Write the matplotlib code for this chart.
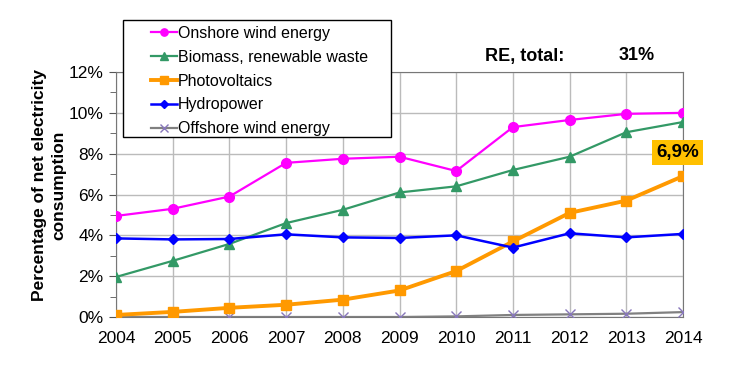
import numpy as np
import matplotlib.pyplot as plt
import matplotlib.patches as patches
from matplotlib.ticker import MultipleLocator, FuncFormatter

years = [2004, 2005, 2006, 2007, 2008, 2009, 2010, 2011, 2012, 2013, 2014]
onshore = [4.95, 5.3, 5.9, 7.55, 7.75, 7.85, 7.15, 9.3, 9.65, 9.95, 10.0]
biomass = [1.96, 2.75, 3.58, 4.6, 5.25, 6.1, 6.4, 7.2, 7.85, 9.05, 9.55]
pv = [0.1, 0.25, 0.45, 0.6, 0.85, 1.3, 2.25, 3.7, 5.1, 5.7, 6.9]
hydro = [3.85, 3.8, 3.82, 4.05, 3.9, 3.87, 4.0, 3.4, 4.1, 3.9, 4.07]
offshore = [0.0, 0.0, 0.0, 0.0, 0.0, 0.0, 0.03, 0.1, 0.13, 0.16, 0.24]

plt.rcParams['font.family'] = ['Liberation Sans', 'DejaVu Sans']

W, H = 744, 369
fig = plt.figure(figsize=(W / 100, H / 100), dpi=100)
ax = fig.add_axes([116 / W, 1 - 317 / H, (683 - 116) / W, (317 - 72) / H])

ax.plot(years, onshore, color='#FF00FF', marker='o', markersize=7, lw=1.6,
        label='Onshore wind energy', zorder=5)
ax.plot(years, biomass, color='#339966', marker='^', markersize=7, lw=1.6,
        label='Biomass, renewable waste', zorder=5)
ax.plot(years, pv, color='#FF9900', marker='s', markersize=7, lw=2.8,
        label='Photovoltaics', zorder=5)
ax.plot(years, hydro, color='#0000FF', marker='D', markersize=5, lw=1.8,
        label='Hydropower', zorder=5)
ax.plot(years, offshore, color='#808080', marker='x', markersize=7, lw=1.6,
        markeredgecolor='#8877BB', label='Offshore wind energy', zorder=4)

ax.set_xlim(2004, 2014)
ax.set_ylim(0, 12)
ax.set_xticks(years)
ax.yaxis.set_major_locator(MultipleLocator(2))
ax.yaxis.set_minor_locator(MultipleLocator(1))
ax.yaxis.set_major_formatter(FuncFormatter(lambda v, p: '%d%%' % v))
ax.tick_params(axis='both', labelsize=12.5, direction='out', color='#555555')
ax.tick_params(axis='y', which='major', length=5, pad=4)
ax.tick_params(axis='y', which='minor', length=4, color='#555555')
ax.tick_params(axis='x', length=0, pad=10)
ax.grid(True, color='#BBBBBB', lw=1)
ax.set_axisbelow(True)
for s in ax.spines.values():
    s.set_color('#777777')

fig.text(49 / W, 1 - 185 / H, 'Percentage of net electricity\nconsumption',
         fontsize=12.5, fontweight='bold', rotation=90, ha='center',
         va='center', linespacing=1.35, multialignment='center')

# legend box drawn separately so the handles sit indented like the original
fig.patches.append(patches.Rectangle((123 / W, 1 - 137 / H), (391 - 123) / W,
                                     (137 - 20) / H, transform=fig.transFigure,
                                     fc='white', ec='black', lw=1, zorder=9))
leg = fig.legend(loc='upper left', bbox_to_anchor=(147 / W, 1 - 22 / H),
                 fontsize=11.5, frameon=False, handlelength=1.6,
                 handletextpad=0.1, borderpad=0.25, labelspacing=0.55,
                 borderaxespad=0, markerscale=0.75)
leg.set_zorder(10)

fig.text(525 / W, 1 - 56 / H, 'RE, total:', fontsize=13, fontweight='bold',
         ha='center', va='center')
fig.text(637 / W, 1 - 56 / H, '31%', fontsize=13, fontweight='bold',
         ha='center', va='center')
ax.annotate('6,9%', xy=(years[-1], pv[-1]), xytext=(-4, 17),
            textcoords='offset points', ha='center', va='center',
            fontsize=13.5, fontweight='bold',
            bbox=dict(boxstyle='square,pad=0.2', fc='#FFC000', ec='none'),
            zorder=11)

plt.savefig('out.png', dpi=100)
